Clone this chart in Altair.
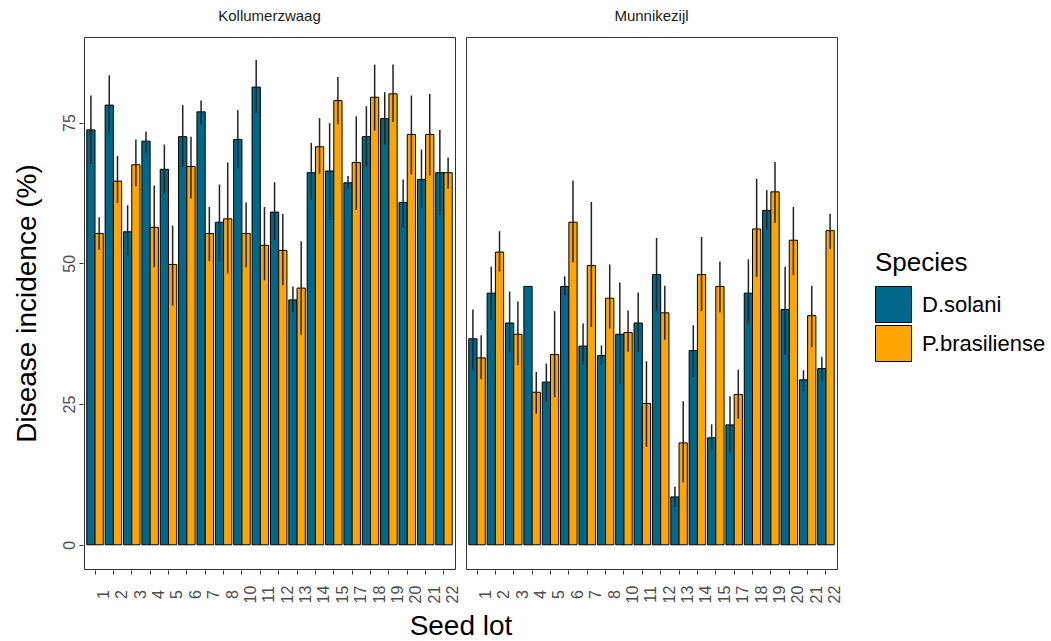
import altair as alt
import pandas as pd

# Seed lots on the x axis (lots 9 and 16 are not in the trial)
lots = ["1", "2", "3", "4", "5", "6", "7", "8", "10", "11",
        "12", "13", "14", "15", "17", "18", "19", "20", "21", "22"]
sites = ["Kollumerzwaag", "Munnikezijl"]
species = ["D.solani", "P.brasiliense"]

# Mean disease incidence (%) per seed lot, with the lower / upper end of the error bar
kol_dsol = [73.7, 78.1, 55.6, 71.7, 66.7, 72.5, 76.9, 57.3, 72.0, 81.3,
            59.1, 43.5, 66.1, 66.4, 64.3, 72.5, 75.7, 60.8, 64.9, 66.1]
kol_dsol_lo = [67.7, 73.0, 51.4, 69.5, 62.4, 67.1, 74.7, 50.5, 66.9, 76.7,
               54.1, 41.3, 61.3, 57.7, 63.3, 67.2, 71.1, 56.4, 59.8, 58.6]
kol_dsol_hi = [79.8, 83.4, 60.3, 73.4, 71.1, 78.1, 78.9, 64.0, 77.2, 86.1,
               64.4, 45.9, 71.4, 74.9, 65.5, 77.9, 80.4, 64.9, 70.2, 73.7]

kol_pbra = [55.3, 64.6, 67.5, 56.4, 49.8, 67.2, 55.3, 57.9, 55.3, 53.2,
            52.3, 45.6, 70.7, 78.9, 67.9, 79.5, 80.1, 72.9, 72.9, 66.1]
kol_pbra_lo = [52.4, 60.7, 63.7, 49.3, 42.5, 61.5, 50.4, 48.2, 49.3, 47.0,
               46.1, 37.3, 65.9, 74.7, 59.5, 73.6, 75.1, 65.8, 65.6, 63.3]
kol_pbra_hi = [58.2, 69.1, 72.0, 63.8, 56.7, 72.5, 60.0, 67.9, 60.8, 60.0,
               58.8, 53.9, 75.8, 83.1, 76.1, 85.3, 85.3, 79.8, 80.1, 68.8]

mun_dsol = [36.6, 44.7, 39.4, 45.9, 28.9, 45.9, 35.3, 33.6, 37.4, 39.4,
            48.0, 8.5, 34.5, 19.0, 21.3, 44.7, 59.4, 41.8, 29.3, 31.3]
mun_dsol_lo = [31.1, 39.9, 34.2, 45.9, 25.4, 44.3, 32.0, 32.0, 28.5, 34.3,
               41.5, 6.7, 29.8, 16.8, 16.5, 39.3, 56.0, 33.8, 27.4, 29.2]
mun_dsol_hi = [41.8, 49.4, 45.0, 45.9, 32.2, 47.7, 39.3, 35.4, 46.6, 44.8,
               54.5, 10.3, 39.0, 21.4, 26.4, 50.7, 63.0, 49.4, 31.0, 33.4]

mun_pbra = [33.2, 52.0, 37.4, 27.1, 33.8, 57.3, 49.6, 43.8, 37.7, 25.1,
            41.2, 18.1, 48.0, 45.9, 26.7, 56.1, 62.7, 54.1, 40.7, 55.8]
mun_pbra_lo = [29.4, 48.5, 31.9, 23.3, 26.2, 50.2, 38.7, 38.4, 34.3, 17.4,
               36.4, 11.1, 41.5, 41.3, 22.4, 47.6, 57.2, 47.9, 35.1, 52.6]
mun_pbra_hi = [37.2, 55.7, 43.2, 30.7, 41.5, 64.7, 60.9, 49.8, 41.6, 32.6,
               46.0, 25.5, 54.7, 50.3, 31.1, 65.0, 68.0, 60.0, 46.0, 58.8]

colors = ["#00688B", "#FFA500"]

series = [
    (sites[0], species[0], kol_dsol, kol_dsol_lo, kol_dsol_hi),
    (sites[0], species[1], kol_pbra, kol_pbra_lo, kol_pbra_hi),
    (sites[1], species[0], mun_dsol, mun_dsol_lo, mun_dsol_hi),
    (sites[1], species[1], mun_pbra, mun_pbra_lo, mun_pbra_hi),
]
rows = []
for site, sp, mean, lo, hi in series:
    for lot, m, l, h in zip(lots, mean, lo, hi):
        rows.append({"site": site, "species": sp, "lot": lot,
                     "incidence": m, "lo": l, "hi": h})
df = pd.DataFrame(rows)

font = "Liberation Sans"

base = alt.Chart(df).encode(
    x=alt.X(
        "lot:N",
        sort=lots,
        title=None,
        scale=alt.Scale(paddingInner=0.1, paddingOuter=0.15),
        axis=alt.Axis(
            labelAngle=-90,
            labelAlign="center",
            labelBaseline="middle",
            labelOffset=9,
            labelPadding=20,
            labelFontSize=16,
            labelColor="#4D4D4D",
            labelFont=font,
            tickColor="#333333",
            tickSize=4,
            domain=False,
            labelOverlap=False,
        ),
    ),
    xOffset=alt.XOffset("species:N", sort=species,
                        scale=alt.Scale(paddingInner=0, paddingOuter=0)),
)

bars = base.mark_bar(stroke="black", strokeWidth=1).encode(
    y=alt.Y(
        "incidence:Q",
        title="Disease incidence (%)",
        scale=alt.Scale(domain=[-4.3, 90.2], nice=False, zero=False),
        axis=alt.Axis(
            values=[0, 25, 50, 75],
            grid=False,
            domain=False,
            labelAngle=-90,
            labelAlign="center",
            labelBaseline="bottom",
            labelPadding=2,
            labelFontSize=16,
            labelColor="#4D4D4D",
            labelFont=font,
            tickColor="#333333",
            tickSize=4,
            titleFont=font,
            titleFontSize=28,
            titleFontWeight="normal",
            titleColor="black",
            titlePadding=20,
        ),
    ),
    y2=alt.datum(0),
    color=alt.Color(
        "species:N",
        sort=species,
        scale=alt.Scale(domain=species, range=colors),
        legend=alt.Legend(
            title="Species",
            orient="none",
            legendX=791,
            legendY=213,
            titleFont=font,
            titleFontSize=26,
            titleFontWeight="normal",
            titleColor="black",
            titlePadding=10,
            labelFont=font,
            labelFontSize=22,
            labelColor="black",
            symbolType="square",
            symbolSize=1296,
            symbolStrokeColor="black",
            symbolStrokeWidth=1,
            symbolOpacity=1,
            rowPadding=-4,
            labelOffset=10,
        ),
    ),
)

errors = base.mark_rule(color="#222222", strokeWidth=1.5).encode(
    y="lo:Q",
    y2="hi:Q",
)

chart = (
    alt.layer(bars, errors)
    .properties(width=371, height=532)
    .facet(
        column=alt.Column(
            "site:N",
            sort=sites,
            header=alt.Header(
                title="Seed lot",
                titleOrient="bottom",
                titleFont=font,
                titleFontSize=28,
                titleFontWeight="normal",
                titleColor="black",
                titlePadding=0,
                labelOrient="top",
                labelFont=font,
                labelFontSize=15,
                labelColor="#1A1A1A",
                labelPadding=12,
            ),
        ),
        spacing=9,
    )
    .configure_view(stroke="#333333", strokeWidth=1)
    .properties(padding={"left": 12, "top": 9, "right": 0, "bottom": 0})
)

chart.save("out.html", embed_options={"renderer": "svg", "actions": False})
